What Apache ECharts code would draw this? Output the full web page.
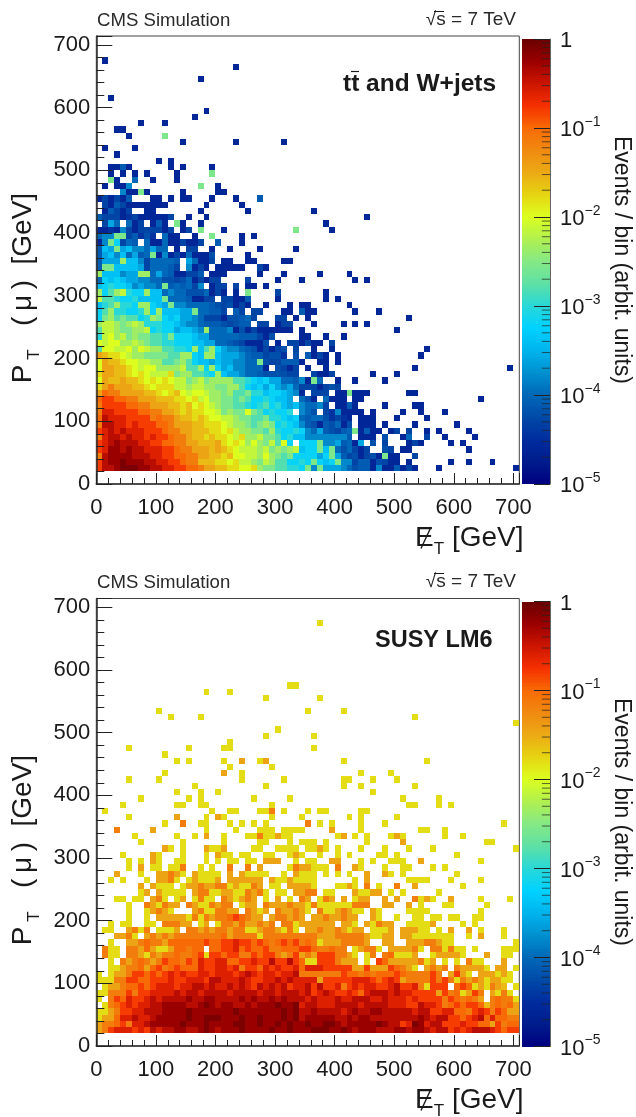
<!DOCTYPE html>
<html><head><meta charset="utf-8">
<style>html,body{margin:0;padding:0;background:#fff}#c{width:636px;height:1117px}</style>
<script src="https://cdn.jsdelivr.net/npm/echarts@6/dist/echarts.min.js"></script>
</head><body><div id="c"></div>
<script>
// Each row is one 10 GeV band of PT(mu), first row is 20-30 GeV. "col:letters": col = MET bin (10 GeV), letter = colour level, '.' = empty.
const levelLetters = "abcdefghijklmnopqrstuvwxyz";
const levelLog10 = [-4.6,-4.45,-4.3,-4.2,-4.1,-4.0,-3.8,-3.6,-3.4,-3.2,-3.0,-2.8,-2.55,-2.35,-2.15,-2.0,-1.8,-1.6,-1.45,-1.15,-1.0,-0.8,-0.6,-0.4,-0.25,-0.1];
const paletteColors = ["#000080","#001c8c","#002c9e","#004aa8","#0068b8","#0090d0","#00b4ec","#00d2ff","#28d8d8","#5ee0a5","#85e985","#b0f050","#dcff20","#e6d412","#ecaa15","#f08a10","#f86a05","#f53000","#cc1500","#9a0000","#6a0000"];
const binWidth = 10, firstRowLow = 20;

const topRows = [
"0:vxxyzzzyyxxwwvvuutssrrqqppqnmmllkk 34:jmgmhhhgfdeeagaaeaca 57:a 70:a",
"0:vxyyzyyyxxwwvvuttrrrqqpqoonmonlljj 34:kjmjijmggceeadcaa.a 59:a 62:a 66:a",
"0:txyyyyxxxwwvvuuttssrrqrppoonpnmlmjj 35:jjhjmhecdacdamaa..c",
"0:vwyyxyxxwwwvvuttsssrsrqpooonomnmnok 34:ijjmimfdfcac..dc.aa 62:a",
"0:vwxyxxxwwvvuuttssrrrsqpqpnpnmolpj 34:jjjmgghefah.d.c...aca 59:a 61:a",
"0:twxxwxwwvwvvuttsrrqrqqpoqnnommljki 34:iggggggge.aaa.d..af 55:c 58:a 63:a",
"0:vwxwxwwwvvvuttssrrrqqpqonnmmlnkjjk 34:jgfhedcefmaeaa.ac.c 55:a 57:a 62:a",
"0:txxwwvwvvvuutsssrrqqqponnmlmnmjkji 34:gedaedfad.aaa.a 53:a 60:a",
"0:uxwwwvvvvtuttsrrqrqppoonmmllmkkjij 34:feffdbcba.aaa 50:a 55:a",
"0:twwvvvvuuttssrqrqqppomnmmpmljkjjk 34:gfd.cbgaaaa.a 51:a 54:a 58:a",
"0:tvvvvuuttsssrrqrpqponmmllkjkljkihi 34:gffgc.aaea 48:a 53:aa",
"0:uvvuuttsssrrrqqpqopnnmmlmljjkjiih 34:fda.faaa.aa 64:a",
"0:suttssssrrqpqrpopponnmnllmkkijjihgh 34:a.ccc.aamaaa 52:aa",
"0:qstsssrrqpqqqoonoonnmmnnljijhjhghf 34:cccacdc",
"0:psrrsrrqpqpqpoomnomnnnnllkjijhhffe 34:gamf..a 43:a 48:a",
"0:qssrrqpqpoooqmnnllkjnihhgffeddddcc 36:caac 46:a 50:a",
"0:pssrrqpoppnnnnollnjnjhiggfffa.dcac 35:a 38:a 53:a 69:a",
"0:psrrqppoonnllmnljiihihhggffmdcceee 34:a 37:aa 40:a",
"0:srqqponnmmmmllnnjinnihhhgfeecddb.d 35:eaca 40:a 54:a",
"0:lppoopnponnllkkjnilnjhggfedacacd.c 36:a 39:a 55:a",
"0:poppnnonmllkkjjjiihhffedcaaad.a.cc 34:acaa.c",
"0:kopnomnmmllkmjjjihhfffffeeecad 34:aa 38:a 41:a",
"0:loonmmnnojkjjhiihgnfffgadacaaaaaa 34:a 50:a",
"0:noonmnonkkkjjihggfeeedcdee.cc.acc 36:a 41:a 43:a 45:a",
"0:jmnlmlljknmjijhhgfcccaddefc...cc.a 35:a 52:a",
"0:jlnkkjjknjniiihhmffeec.ec.cc...aa 34:eaa 43:a 47:a",
"0:iklnkkjnnjihmggffffedcdaca..a...a 34:aa 42:a",
"0:ollkjjkiiiimfffeaacc.ccaae....a 38:a 40:a",
"0:njlnokjjniifgffdddfaca.a.m....c 38:a",
"0:ijkjjighggfmefefcg.acc.c.aa.a",
"0:fjijihhggffddcdfacacc....c....a 34:a 43:a 45:a",
"0:niiighhnnfhfeaacce.aaa.....a...a 37:a 42:a",
"0:emmiiiihcfffec.gaca.aaaaa..ca",
"0:ehhhniigcffffe.hfaac.aa..aa....aa",
"0:ehigifhefmagacafaaad 25:a",
"0:eihmhiggfhff.a.cc..a..a 27:a 33:a",
"0:agmjcfe.faafaacaac..e 24:a",
"0:fggmmcebdb.faa..a..m 24:a 26:a",
"0:aabagcaccccac 14:ac 17:m 21:a 33:m 39:a",
"1:chf.fac.aea.ma..a 38:a",
"0:ecccabcaaaaac..a..a 45:a",
"1:aecac..aa 17:a 25:a 36:a",
"1:caecaaaaaaa 18:a 24:a",
"0:acacae 9:aa 12:a 14:aa 19:a 23:a 27:e",
"4:gaama 14:a 20:aa",
"1:a 3:aag 17:m 20:a",
"2:ma 6:f 9:a 13:a",
"2:a 4:a 6:a 8:a 13:a 19:m",
"2:aaea 12:a 14:a 19:a",
"10:a 12:a","3:a","1:a 6:a","14:a 23:a 31:a","5:a 11:m","3:aa","7:a 11:a","16:a","18:a","","2:a","","","17:a","","23:a","1:a"
];

const bottomRows = [
"0:stvwwwvwvxwxxyyxxyzyxyyyzyyyyzyyzy 34:yyzzzyyzyxyyyxxxyyxyyxwxxvwvwxxxwvuvv",
"0:sttuvtwwxyyyyyzyyyzyyyyzzyyzyyzyzy 34:yzyyzzyxyyyyyzyxxvwzywxxvvvwvvuusvtuu",
"0:qssuwwxwwxyyyyyzyyzzzyyyzyyzyyyzyz 34:xyyyyyxxyxyyxxxxxxxxyxwxxvvuvwxuwuutt",
"0:qqstvvwwxxxyyyyzyyyyyyyzyyyyyyyzyz 34:xxyxxxxwxyxxyyxxxxxwxxvvwwuutvwvtvuss",
"1:qtuvwvwwxxyyyyxxyzyxyyxxyxyyyzyyz 34:wxxwwwxxxxwxxxxwwwvvxwwvtuvuvvurtutus",
"0:q.tvuwvvwxwxxxxyxxyyxxxxyxyxxyxyxx 34:xwxwwwxwwxxxwwxwwwvwvvvvtvututs.tuttq",
"0:qqtttvtvvwwwwxwxxwxxxxwxxxxwxxwxxx 34:wxvwxwvvwvuwxxxwxwwvvvvsvtuqsvt.sqtq",
"1:qsstuuvuvwwwvwwxxwxwwxwxwvxwxwxvw 34:wxvxvvwtvwvwwvvwxvvwtqvvv.uvuqsqtsr.q",
"0:qqqttvvuuvvvwvvwwwvxxwwwxwvvwwxwxw 34:wwwsvvvvvwwwvuvwvsttttvtvtqtstsqssqq",
"0:q.qsstvvuvuvwvwvvwwvwwwvwxwvwwvwwx 34:tttttttvuututuuuvuttttvt.svsq.sssqsq",
"2:qqsttusuvtuvuuuwvvwwvwtvvuwvwvvw 34:uwwwvvvvvssvsssvutsq.stst.tssssq.ss.q",
"2:q.tstutstvuutvuwvvwwuuvvwvvxvvxv 34:uqqvvvtsss.q.vussssstqs.q.q.tqq...s",
"1:tqq.ttsqtsttuttuvqvvuvvttvuvvtstv 34:stsvvvttsq.qt.tuqqqs..qssssq...s..qq",
"1:tqq.ttsusqqsuutuu.uuvvwuvuuvttuuu 34:vvuttutt.qsttq.sssstq.ttqtqq.q....qqq",
"2:q..sstuttsuuuuuuvuuvvwvvuvutuvuv 34:tutqssstttts..ss..sssttsqq..........q",
"3:sstq.stststtttttttusttttqtttttts 34:tttssstttttsqqss.ssqqqqqqq..q.s...q",
"1:qq..stqt.qqqs.ttststtsttqqsttsqtq 34:.sstsstsqss.qqqs.sssqq.q.s..s.q...q",
"2:q.qq..qq.tttss.qs.qttsusstst.ttqs 34:ssssss.ssq.sqtss..qqqqs....q.q",
"5:q..q.sssssqtqtsttuvutss.sttsts 34:s.sstsstss..sq..q..qq.qq.qq..qq",
"5:q..qstsq...stqqttss.tsqs.tssts 34:sq.tqqstsqq.sq....qqqq........q",
"5:q..tsqtss.tsqqtstt.qss.tssstss 34:.qtqqqqqqttt..ss..s.q...qq.....q",
"3:qq.qq.stq.qs.qtqq.tsqsts.q.s.q.st 34:ts.qts.s.qss..s.s..tqsq..s....q....q",
"7:qs.sqqqq.sttqqssqqtstq.qq.ss 34:stt.qq...sqqss.q.q.....q",
"7:s.sqqq.qsstssttqsqqts.qq.ss 34:ssq...qqsq.t.q..t..s.......q",
"2:q.q...q.sstq.qsqqqs.ssssss.sqqsq 34:qqq......q.s......qqqq...q....q",
"3:s...q..sstsq.sqqqq.s.sqqqq..q.sqt 35:qq 38:q 40:q 42:q 45:s 48:sq 51:q 60:q",
"5:q.s.qq.qqt..q.q..t..t.s....qts 35:sqqq 40:t 43:sq 48:q 51:qq 56:q 58:q",
"5:q.q.sq..qq...q.q.qq.qq.sss..q.q 35:qq 39:s 40:s 44:q 46:q 49:qqq 54:s 64:q",
"4:q....sq...q...q.sqq.qq..qq..qsq 37:q 40:q 42:q 47:qq 50:q 60:q",
"11:sq.q...sqqs....qq..qqqq 35:qqs 38:q 40:q 44:q 48:q 52:q 56:q 70:q",
"7:q......q......q.....qq...q.qqq 38:q 45:q 51:s 65:qq",
"6:q......q..q.s..q...qqtqqsqq 40:qs 43:q 45:q 49:qsq 58:q 61:q",
"3:t.....s........q....q...qqq.qqq 34:q 39:s 44:q 54:qq 58:q",
"11:q..t..qq...q.q.q.q......t 37:q 39:q 44:q 48:q 68:q",
"5:q.......s....q.sq.......q....q 42:q 44:q 50:q",
"1:q 19:q 22:qq 27:qqt 31:q 35:q 37:qq 44:qq",
"4:q 13:qq 17:qq 29:q 52:qq 57:q 59:q",
"7:q 15:q 17:q 26:q 32:q 51:q 57:q",
"13:q 17:q 20:q 46:q",
"16:q 28:q 41:q 44:q 53:q",
"5:q 10:q 24:q 31:q 41:qq 46:q 50:q",
"11:q 21:s 24:q 44:q 49:q",
"22:q 29:q",
"13:q 15:q 21:q 24:s 27:qs 41:q 55:q",
"11:q",
"5:q 15:q 21:qq 36:q",
"22:q",
"28:q 36:q",
"30:q",
"70:q",
"12:q 17:q 53:q",
"10:q 35:q 41:q",
"","28:q 37:q","18:q 22:q","32:qq","","","","","","","","","","37:q"
];

const xTickStep = 100, xMax = 710, yMax = 714;
const colorbarMin = -5, colorbarMax = 0, colorbarStep = 0.02;
const colorbarMinorMultipliers = [2,3,4,5,6,7,8,9];

function rowsToCells(rows){
  const out = [];
  rows.forEach((row, r) => {
    row.split(" ").filter(Boolean).forEach(seg => {
      const [start, letters] = seg.split(":");
      [...letters].forEach((ch, i) => {
        const k = +start + i;
        const lvl = levelLetters.indexOf(ch);
        if (lvl >= 0 && k <= 70) out.push([k * binWidth, firstRowLow + r * binWidth, levelLog10[lvl]]);
      });
    });
  });
  return out;
}
const colorbarCells = [];
for (let i = 0; i < 250; i++) { const lo = colorbarMin + i * colorbarStep; colorbarCells.push([0, lo, lo + colorbarStep / 2]); }
const colorbarMinorTicks = [];
for (let d = -5; d < 0; d++) colorbarMinorMultipliers.forEach(m => colorbarMinorTicks.push([d + Math.log10(m)]));

function snappedRect(a, b, fill){
  const x0 = Math.round(a[0]), y0 = Math.round(a[1]), x1 = Math.round(b[0]), y1 = Math.round(b[1]);
  return {type:'rect', shape:{x:x0, y:y0, width:x1-x0, height:y1-y0}, style:{fill, stroke:null, lineWidth:0}};
}
function heatItem(params, api){
  const x = api.value(0), y = api.value(1);
  return snappedRect(api.coord([x, y + binWidth]), api.coord([x + binWidth, y]), api.visual('color'));
}
function barItem(params, api){
  const lo = api.value(1);
  return snappedRect(api.coord([0, lo + colorbarStep]), api.coord([1, lo]), api.visual('color'));
}
function tickItem(params, api){
  const v = api.value(0);
  const a = api.coord([0.71, v]), b = api.coord([1, v]);
  return {type:'line', shape:{x1:a[0], y1:a[1], x2:b[0], y2:b[1]}, style:{stroke:'#222', lineWidth:1, opacity:0.7}};
}

const ink = '#1a1a1a', FONT = '"Liberation Sans", Arial, sans-serif';
const panels = [
  {top:36, height:448, cbTop:39, cells:rowsToCells(topRows)},
  {top:598.5, height:447.5, cbTop:601.5, cells:rowsToCells(bottomRows)}
];
const grid=[], xAxis=[], yAxis=[], series=[], graphic=[], vmSeries=[];
panels.forEach((p, i) => {
  const g = grid.length;
  grid.push({left:96.3, top:p.top, width:423, height:p.height, show:true, borderColor:'#444', borderWidth:1, backgroundColor:'transparent'});
  grid.push({left:522, top:p.cbTop, width:28, height:445});
  xAxis.push({type:'value', gridIndex:g, min:0, max:xMax, interval:xTickStep, z:5, splitLine:{show:false},
    axisLine:{onZero:false, lineStyle:{color:'#333', width:1.6}},
    axisTick:{inside:true, length:11, lineStyle:{color:'#222'}},
    minorTick:{show:true, splitNumber:5, length:6, lineStyle:{color:'#222'}},
    axisLabel:{showMaxLabel:false, fontFamily:FONT, fontSize:22, color:ink, margin:13}});
  yAxis.push({type:'value', gridIndex:g, min:0, max:yMax, interval:xTickStep, z:5, splitLine:{show:false},
    axisLine:{onZero:false, lineStyle:{color:'#333', width:1.6}},
    axisTick:{inside:true, length:16, lineStyle:{color:'#222'}},
    minorTick:{show:true, splitNumber:5, length:8, lineStyle:{color:'#222'}},
    axisLabel:{showMaxLabel:false, fontFamily:FONT, fontSize:22, color:ink, margin:6}});
  xAxis.push({type:'value', gridIndex:g+1, min:0, max:1, show:false});
  yAxis.push({type:'value', gridIndex:g+1, position:'right', min:colorbarMin, max:colorbarMax, interval:1, z:5, splitLine:{show:false},
    axisLine:{onZero:false, lineStyle:{color:'#666', width:1}},
    axisTick:{inside:true, length:16, lineStyle:{color:'#222'}},
    axisLabel:{fontFamily:FONT, fontSize:22, color:ink, margin:10,
      formatter:v => v === 0 ? '{b|1}' : '{b|10}{s|\u2212' + (-v) + '}',
      rich:{b:{fontFamily:FONT, fontSize:22, color:ink, lineHeight:26, verticalAlign:'bottom'}, s:{fontFamily:FONT, fontSize:14, color:ink, lineHeight:26, verticalAlign:'top'}}}});
  vmSeries.push(series.length);
  series.push({type:'custom', xAxisIndex:g, yAxisIndex:g, coordinateSystem:'cartesian2d', renderItem:heatItem, data:p.cells, encode:{x:0,y:1}, clip:true, silent:true, z:2});
  vmSeries.push(series.length);
  series.push({type:'custom', xAxisIndex:g+1, yAxisIndex:g+1, coordinateSystem:'cartesian2d', renderItem:barItem, data:colorbarCells, encode:{x:0,y:1}, silent:true, z:2});
  series.push({type:'custom', xAxisIndex:g+1, yAxisIndex:g+1, coordinateSystem:'cartesian2d', renderItem:tickItem, data:colorbarMinorTicks, encode:{y:0}, silent:true, z:4});

  const dy = i === 0 ? 0 : 562;
  const txt = (x,y,text,size,extra) => graphic.push(Object.assign({type:'text', x, y:y+dy, z:10, silent:true,
     style:Object.assign({text, fontFamily:FONT, fontSize:size, fill:ink, align:'left', verticalAlign:'middle'}, extra && extra.style)}, extra && extra.el));
  const line = (x1,y1,x2,y2,w) => graphic.push({type:'line', z:10, silent:true, shape:{x1,y1:y1+dy,x2,y2:y2+dy}, style:{stroke:ink, lineWidth:w||1.2}});
  txt(97, 21, 'CMS Simulation', 18.6, {style:{fill:'#2a2a2a'}});
  txt(516, 20, '\u221As = 7 TeV', 19, {style:{align:'right', fill:'#2a2a2a'}});
  line(434, 11.5, 444, 11.5, 1);
  const richAxis = {a:{fontFamily:FONT, fontSize:28, color:ink, lineHeight:40, verticalAlign:'middle'}, s:{fontFamily:FONT, fontSize:17, color:ink, lineHeight:38, verticalAlign:'bottom'}};
  txt(523.5, 538, '', 28, {style:{text:'{a|E}{s|T}{a| [GeV]}', rich:richAxis, align:'right'}});
  line(421, 548.5, 431, 527, 1.4);
  txt(23, 288, '', 28, {style:{text:'{a|P}{s|\u00A0T}{a|\u00A0\u00A0\u00A0(\u2009\u03BC\u2009)\u00A0\u00A0[GeV]}', rich:richAxis, align:'center'}, el:{rotation:Math.PI/2}});
  txt(621, 260, 'Events / bin (arbit. units)', 23, {style:{align:'center'}, el:{rotation:-Math.PI/2}});
  if (i === 0) {
    txt(343, 84, 'tt and W+jets', 24.5, {style:{fontWeight:'bold'}});
    line(351, 71.5, 359, 71.5, 1.2);
  } else {
    txt(375, 79, 'SUSY LM6', 23.5, {style:{fontWeight:'bold'}});
  }
});

const chart = echarts.init(document.getElementById('c'), null, {renderer:'canvas', width:636, height:1117});
chart.setOption({animation:false, backgroundColor:'#fff', grid, xAxis, yAxis, series, graphic,
  visualMap:[{type:'continuous', show:false, min:colorbarMin, max:colorbarMax, dimension:2, seriesIndex:vmSeries, inRange:{color:paletteColors}}]});
</script></body></html>
